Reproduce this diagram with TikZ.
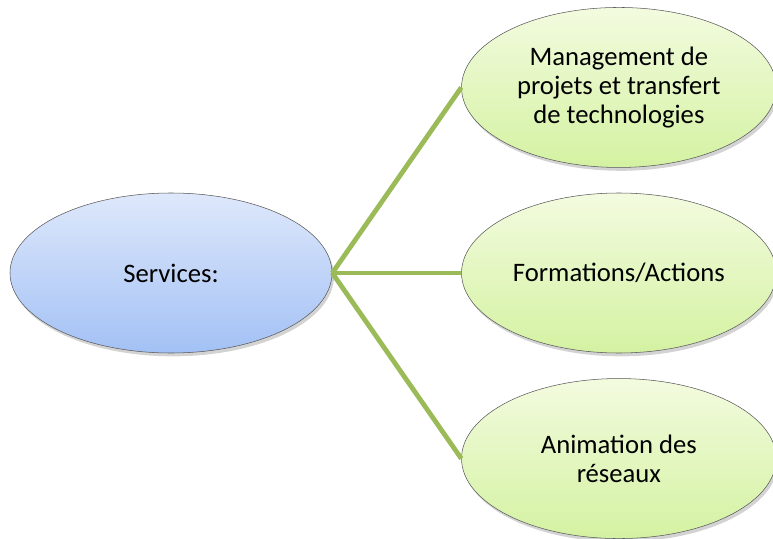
\documentclass[tikz,border=0pt]{standalone}
\usepackage{fontspec}
\setmainfont{Carlito}
\usetikzlibrary{shapes,positioning,shadows}
\definecolor{hubtop}{HTML}{DEE8FB}
\definecolor{hubbot}{HTML}{A3C1F5}
\definecolor{leaftop}{HTML}{F3FBDF}
\definecolor{leafbot}{HTML}{D4F2A2}
\definecolor{linkgreen}{HTML}{9BBB59}

\begin{document}
\begin{tikzpicture}[
    x=0.75pt, y=-0.75pt,
    hub/.style={ellipse, draw=black!65, top color=hubtop, bottom color=hubbot, minimum width=241.5pt, minimum height=120pt, inner sep=0pt, align=center, font=\fontsize{20}{22}\selectfont, drop shadow={shadow xshift=1.5pt, shadow yshift=-2.5pt, opacity=0.35}},
    leaf/.style={ellipse, draw=black!65, top color=leaftop, bottom color=leafbot, minimum width=236pt, minimum height=120pt, inner sep=0pt, align=center, font=\fontsize{20}{22}\selectfont, drop shadow={shadow xshift=1.5pt, shadow yshift=-2.5pt, opacity=0.35}},
    link/.style={draw=linkgreen, line width=3.6pt}
]
\useasboundingbox (0,0) rectangle (773,538);

% Services and the three branches
\node[hub] (services) at (171,273) {Services:};
\node[leaf, right=96.75pt of services] (formations) {Formations/Actions};
\node[leaf, above=18.75pt of formations] (management) {Management de\\projets et transfert\\de technologies};
\node[leaf, below=18.75pt of formations] (animation) {Animation des\\réseaux};

% Connections
\draw[link] (services.east) -- (management.west);
\draw[link] (services.east) -- (formations.west);
\draw[link] (services.east) -- (animation.west);

\end{tikzpicture}
\end{document}
